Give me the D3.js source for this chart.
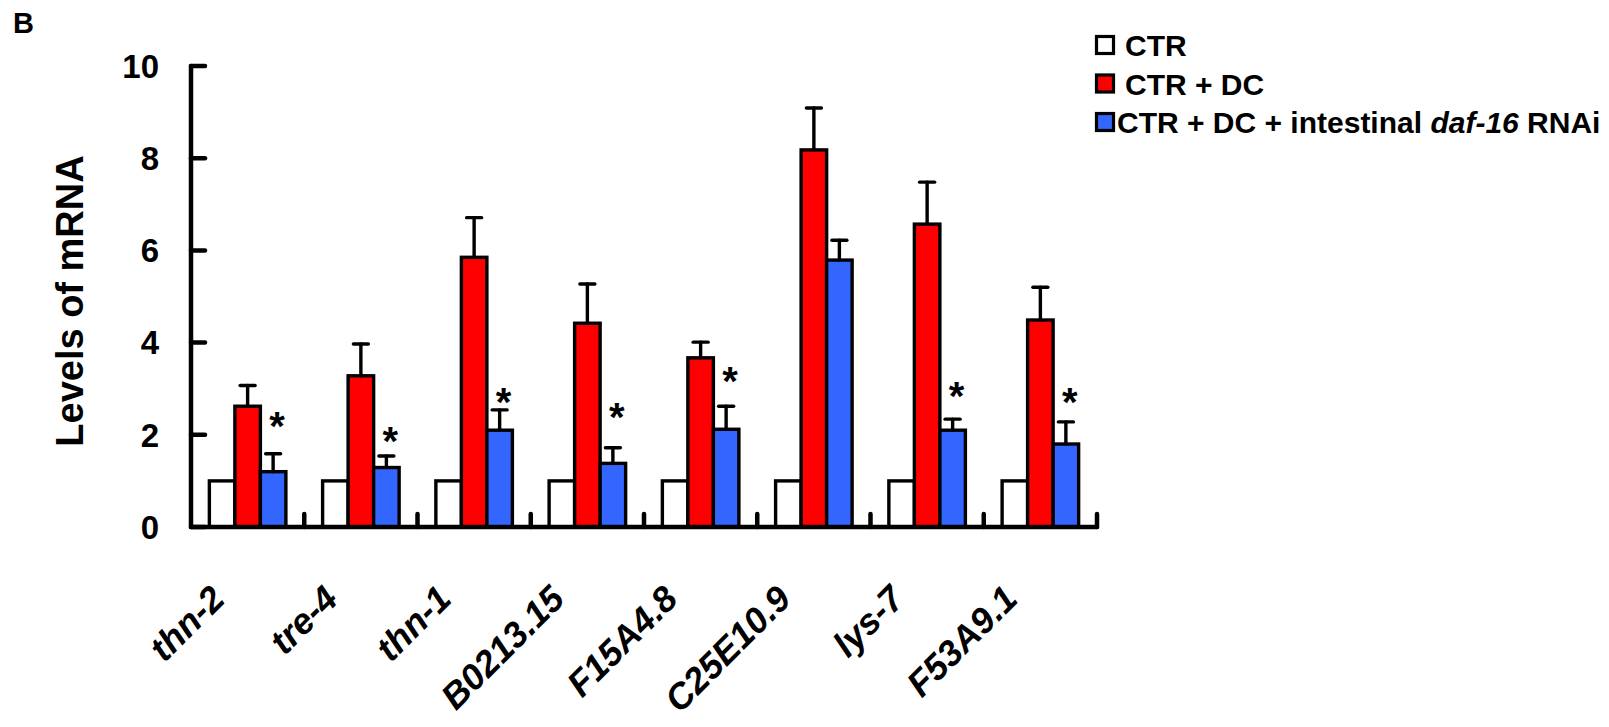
<!DOCTYPE html>
<html>
<head>
<meta charset="utf-8">
<script src="https://cdn.jsdelivr.net/npm/d3@7"></script>
<style>
  html, body { margin: 0; padding: 0; background: #fff; }
  svg { display: block; }
  text { font-family: "Liberation Sans", Arial, Helvetica, sans-serif; font-weight: bold; fill: #000; }
</style>
</head>
<body>
<div id="chart"></div>
<script>
const genes = ["thn-2", "tre-4", "thn-1", "B0213.15", "F15A4.8", "C25E10.9", "lys-7", "F53A9.1"];
const seriesNames = ["CTR", "CTR + DC", "CTR + DC + intestinal daf-16 RNAi"];
const seriesColors = ["#ffffff", "#ff0000", "#3366ff"];
const ctrValues = [1, 1, 1, 1, 1, 1, 1, 1];
const dcValues = [2.62, 3.28, 5.85, 4.42, 3.67, 8.18, 6.57, 4.49];
const dcErrors = [0.45, 0.69, 0.86, 0.85, 0.34, 0.91, 0.91, 0.71];
const rnaiValues = [1.20, 1.29, 2.10, 1.38, 2.12, 5.79, 2.10, 1.80];
const rnaiErrors = [0.39, 0.25, 0.44, 0.34, 0.50, 0.43, 0.24, 0.48];
const starLevels = [2.39, 2.07, 2.91, 2.59, 3.36, null, 3.03, 2.90];
const yTicks = [0, 2, 4, 6, 8, 10];

const W = 1609, H = 727;
const x0 = 191, x1 = 1097, yBottom = 527, yTop = 66;

const svg = d3.select("#chart").append("svg").attr("width", W).attr("height", H);

const x = d3.scaleBand().domain(genes).range([x0, x1]).padding(0);
const xs = d3.scaleBand().domain(seriesNames).range([0, x.bandwidth()]).paddingInner(0).paddingOuter(0.72);
const y = d3.scaleLinear().domain([0, 10]).range([yBottom, yTop]);

const seriesValues = [ctrValues, dcValues, rnaiValues];
const seriesErrors = [null, dcErrors, rnaiErrors];

// bars
seriesNames.forEach((s, si) => {
  const g = svg.append("g");
  g.selectAll("rect").data(genes).join("rect")
    .attr("x", d => x(d) + xs(s))
    .attr("y", (d, i) => y(seriesValues[si][i]))
    .attr("width", xs.bandwidth())
    .attr("height", (d, i) => y(0) - y(seriesValues[si][i]))
    .attr("fill", seriesColors[si])
    .attr("stroke", "#000").attr("stroke-width", 3.4);
});

// error bars
seriesNames.forEach((s, si) => {
  if (!seriesErrors[si]) return;
  const g = svg.append("g").attr("stroke", "#000").attr("stroke-width", 3.4).attr("stroke-linecap", "round");
  genes.forEach((d, i) => {
    const cx = x(d) + xs(s) + xs.bandwidth() / 2;
    const v = seriesValues[si][i], e = seriesErrors[si][i];
    g.append("line").attr("x1", cx).attr("x2", cx).attr("y1", y(v)).attr("y2", y(v + e));
    g.append("line").attr("x1", cx - 7.5).attr("x2", cx + 7.5).attr("y1", y(v + e)).attr("y2", y(v + e));
  });
});

// asterisks
svg.append("g").selectAll("text").data(genes.filter((d, i) => starLevels[i] != null)).join("text")
  .attr("x", d => x(d) + xs(seriesNames[2]) + xs.bandwidth() / 2 + 4)
  .attr("y", d => y(starLevels[genes.indexOf(d)]) + 23)
  .attr("text-anchor", "middle")
  .style("font-size", "40px")
  .text("*");

// axes
const axisG = svg.append("g").attr("stroke", "#000").attr("stroke-linecap", "round");
axisG.append("line").attr("x1", x0).attr("x2", x0).attr("y1", y(10)).attr("y2", yBottom).attr("stroke-width", 4.5);
axisG.append("line").attr("x1", x0).attr("x2", x1).attr("y1", yBottom).attr("y2", yBottom).attr("stroke-width", 4.5);
axisG.selectAll(".yt").data(yTicks).join("line")
  .attr("x1", x0).attr("x2", x0 + 14)
  .attr("y1", d => y(d)).attr("y2", d => y(d)).attr("stroke-width", 4.5);
axisG.selectAll(".xt").data(genes).join("line")
  .attr("x1", d => x(d) + x.bandwidth()).attr("x2", d => x(d) + x.bandwidth())
  .attr("y1", yBottom).attr("y2", yBottom - 13).attr("stroke-width", 4.5);

// y tick labels
svg.append("g").selectAll("text").data(yTicks).join("text")
  .attr("x", 159).attr("y", d => y(d)).attr("dy", "0.36em")
  .attr("text-anchor", "end").style("font-size", "33px")
  .text(d => d);

// x labels
svg.append("g").selectAll("text").data(genes).join("text")
  .attr("transform", d => `translate(${x(d) + x.bandwidth() / 2 - 21},601) rotate(-45)`)
  .attr("text-anchor", "end").style("font-size", "36px").style("font-style", "italic")
  .text(d => d);

// y axis title
svg.append("text")
  .attr("transform", "translate(83,301) rotate(-90)")
  .attr("text-anchor", "middle").style("font-size", "38px")
  .text("Levels of mRNA");

// panel letter
svg.append("text").attr("x", 13).attr("y", 33).style("font-size", "29px").text("B");

// legend
const legY = [56, 94.5, 133];
const legX = [1125, 1125, 1117];
const leg = svg.append("g");
seriesNames.forEach((s, i) => {
  leg.append("rect").attr("x", 1096.5).attr("y", legY[i] - 19.5).attr("width", 17).attr("height", 17)
    .attr("fill", seriesColors[i]).attr("stroke", "#000").attr("stroke-width", 3.2);
  const t = leg.append("text").attr("x", legX[i]).attr("y", legY[i]).style("font-size", "30px");
  if (i === 2) {
    t.append("tspan").text("CTR + DC + intestinal ");
    t.append("tspan").style("font-style", "italic").text("daf-16");
    t.append("tspan").text(" RNAi");
  } else {
    t.text(s);
  }
});
</script>
</body>
</html>
